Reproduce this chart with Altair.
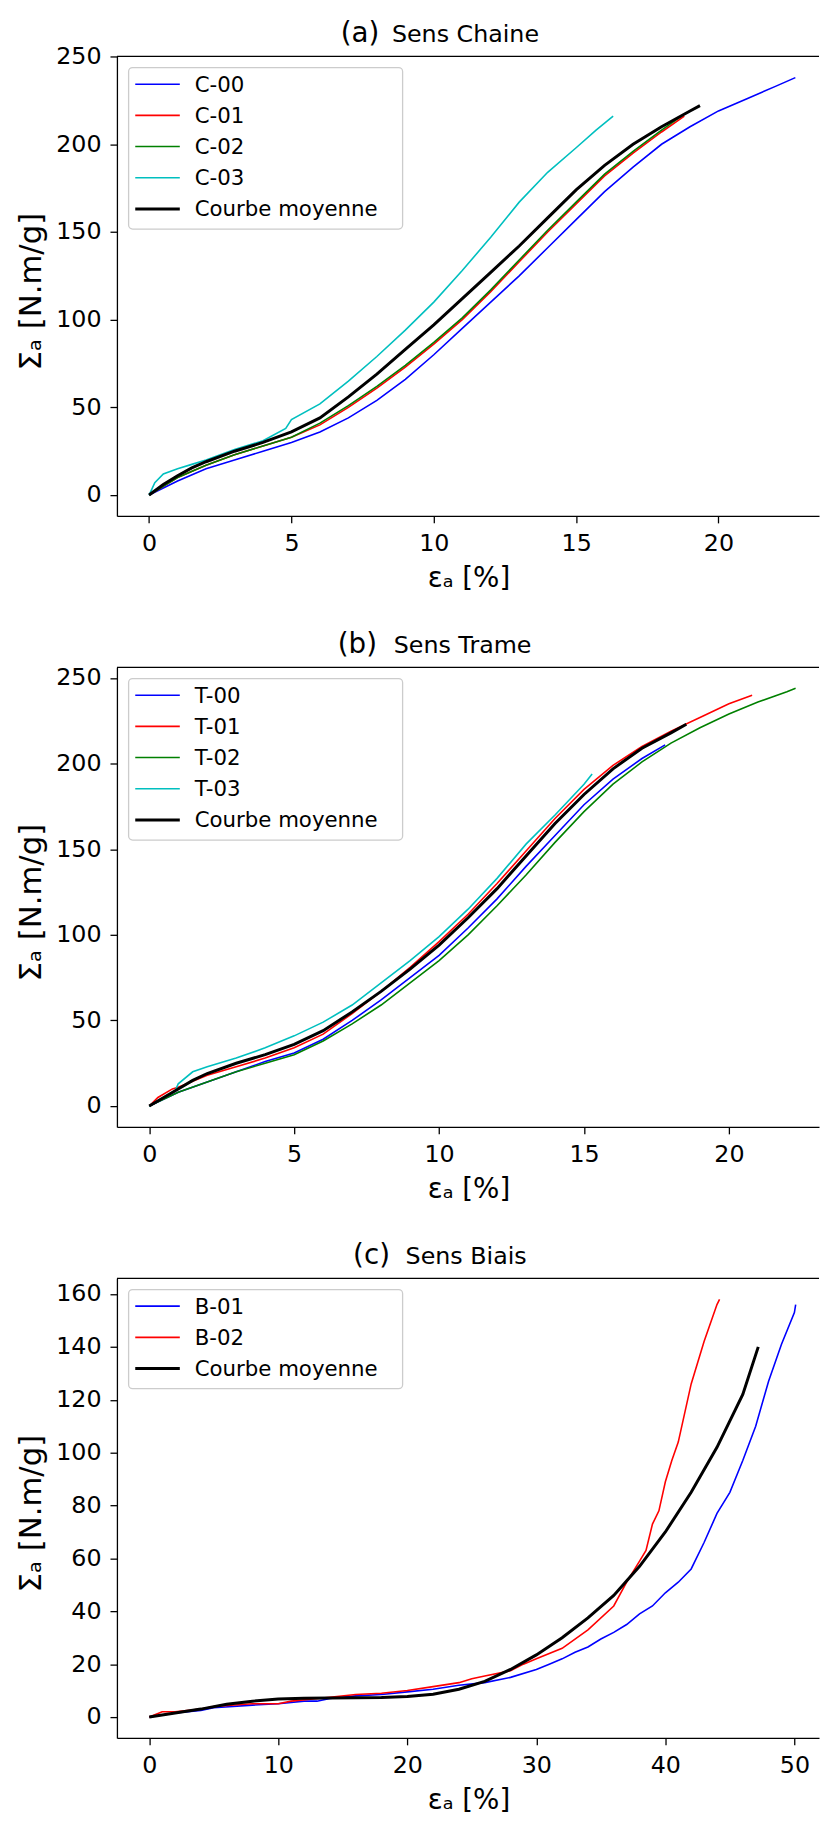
import altair as alt
import pandas as pd

FONT = "DejaVu Sans"

# ---------------- Panel (a) Sens Chaine ----------------
a_names = ["C-00", "C-01", "C-02", "C-03", "Courbe moyenne"]
a_colors = ["#0000ff", "#ff0000", "#008000", "#00bfbf", "#000000"]
a_x_c00 = [0, 1, 2, 3, 4, 5, 6, 7, 8, 9, 10, 11, 12, 13, 14, 15, 16, 17, 18, 19, 20, 21, 22, 22.7]
a_y_c00 = [0, 8, 15, 20, 25, 30, 36, 44, 54, 66, 80, 95, 110, 125, 141, 157, 173, 187, 200, 210, 219, 226, 233, 238]
a_x_c01 = [0, 1, 2, 3, 4, 5, 6, 7, 8, 9, 10, 11, 12, 13, 14, 15, 16, 17, 18, 18.8]
a_y_c01 = [0, 10, 17, 23, 28, 33, 40, 50, 61, 73, 86, 100, 116, 133, 150, 166, 182, 195, 207, 216]
a_x_c02 = [0, 1, 2, 3, 4, 5, 6, 7, 8, 9, 10, 11, 12, 13, 14, 15, 16, 17, 18, 18.7]
a_y_c02 = [0, 10, 17, 23, 28, 33, 41, 51, 62, 74, 87, 101, 117, 134, 151, 167, 183, 196, 208, 216]
a_x_c03 = [0, 0.2, 0.5, 1, 1.5, 2, 2.5, 3, 4, 4.8, 5, 6, 7, 8, 9, 10, 11, 12, 13, 14, 15, 15.7, 16.3]
a_y_c03 = [0, 7, 12, 15, 17.5, 20, 23, 26, 31, 38, 43, 52, 65, 79, 94, 110, 128, 147, 167, 184, 198, 208, 216]
a_x_moy = [0, 0.5, 1, 1.5, 2, 3, 4, 5, 6, 7, 8, 9, 10, 11, 12, 13, 14, 15, 16, 17, 18, 19, 19.35]
a_y_moy = [0, 6, 11, 15.5, 19, 25, 30, 36, 44, 56, 69, 83, 97, 112, 127, 142, 158, 174, 188, 200, 210, 219, 222]

# ---------------- Panel (b) Sens Trame ----------------
b_names = ["T-00", "T-01", "T-02", "T-03", "Courbe moyenne"]
b_colors = ["#0000ff", "#ff0000", "#008000", "#00bfbf", "#000000"]
b_x_t00 = [0, 1, 2, 3, 4, 5, 6, 7, 8, 9, 10, 11, 12, 13, 14, 15, 16, 17, 17.8]
b_y_t00 = [0, 8, 14, 20, 26, 31, 39, 50, 62, 75, 88, 104, 121, 140, 158, 176, 191, 203, 211]
b_x_t01 = [0, 0.3, 0.8, 1, 2, 3, 4, 5, 6, 7, 8, 9, 10, 11, 12, 13, 14, 15, 16, 17, 18, 19, 20, 20.8]
b_y_t01 = [0, 5, 10, 11, 18, 23, 28, 34, 42, 54, 67, 81, 96, 112, 130, 149, 168, 185, 199, 210, 219, 227, 235, 240]
b_x_t02 = [0, 1, 2, 3, 4, 5, 6, 7, 8, 9, 10, 11, 12, 13, 14, 15, 16, 17, 18, 19, 20, 21, 22, 22.3]
b_y_t02 = [0, 8, 14, 20, 25, 30, 38, 48, 59, 72, 85, 100, 117, 135, 154, 172, 188, 201, 212, 221, 229, 236, 242, 244]
b_x_t03 = [0, 0.5, 0.9, 1, 1.5, 2, 3, 4, 5, 6, 7, 8, 9, 10, 11, 12, 13, 14, 15, 15.28]
b_y_t03 = [0, 5, 9, 13, 20, 23, 28, 34, 41, 49, 59, 72, 85, 99, 115, 133, 153, 170, 188, 194]
b_x_moy = [0, 0.5, 1, 1.5, 2, 3, 4, 5, 6, 7, 8, 9, 10, 11, 12, 13, 14, 15, 16, 17, 18, 18.53]
b_y_moy = [0, 5, 10, 15, 19, 25, 30, 36, 44, 55, 67, 80, 94, 110, 127, 146, 165, 182, 197, 209, 218, 223]

# ---------------- Panel (c) Sens Biais ----------------
c_names = ["B-01", "B-02", "Courbe moyenne"]
c_colors = ["#0000ff", "#ff0000", "#000000"]
c_x_b01 = [0, 2, 4, 5, 8, 10, 12, 13, 14, 16, 18, 20, 22, 24, 26, 28, 30, 31, 32, 33, 34, 35, 36, 37,
           38, 39, 40, 41, 42, 43, 44, 45, 46, 47, 48, 49, 50, 50.1]
c_y_b01 = [0, 1.5, 2.5, 3.5, 4.5, 5, 6, 6, 7, 8, 8.5, 9.5, 10.5, 12, 13, 15, 18, 20, 22, 24.5, 26.5, 29.5, 32, 35,
           39, 42, 47, 51, 56, 66, 77, 85, 97, 110, 127, 141, 153, 156]
c_x_b02 = [0, 1, 2, 4, 5, 8, 10, 11, 14, 16, 18, 20, 22, 24, 25, 26, 28, 29, 30, 32, 34, 36, 37, 38,
           38.5, 39, 39.5, 40, 40.5, 41, 42, 43, 43.5, 44, 44.2]
c_y_b02 = [0, 2, 2, 3, 4, 5, 5, 6, 7.5, 8.5, 9, 10, 11.5, 13, 14.5, 15.5, 17.5, 20, 22, 26, 33, 42, 51, 59,
           63, 73, 78, 89, 97, 104, 126, 142, 149, 156, 158]
c_x_moy = [0, 2, 4, 6, 8, 10, 12, 14, 16, 18, 20, 22, 24, 26, 28, 30, 32, 34, 36, 38, 40, 42, 44, 46, 47.2]
c_y_moy = [0, 1.5, 3, 4.8, 6, 6.8, 7.1, 7.2, 7.3, 7.4, 7.8, 8.6, 10.5, 13.5, 18, 23.5, 30, 37.5, 46, 57, 70, 85, 102, 122, 140]

W, H = 709, 464
MEAN = "Courbe moyenne"


def table(names, xs, ys):
    rows = []
    for n, xl, yl in zip(names, xs, ys):
        for i, (x, y) in enumerate(zip(xl, yl)):
            rows.append({"serie": n, "x": x, "y": y, "i": i})
    return pd.DataFrame(rows)


def panel(df, names, colors, xdom, ydom, xticks, yticks, tag, label, tag_x, label_x, anchor=False):
    n = len(names)
    cscale = alt.Scale(domain=names, range=colors)
    swidth = alt.condition("datum.serie === '%s'" % MEAN, alt.value(3), alt.value(1.6))
    lines = alt.Chart(df).mark_line(clip=True).encode(
        x=alt.X("x:Q", scale=alt.Scale(domain=xdom, nice=False, zero=False),
                axis=alt.Axis(values=xticks, format="d", title="εₐ [%]", grid=False,
                              titleX=355, titleY=49.5, titleAlign="center", titleBaseline="top")),
        y=alt.Y("y:Q", scale=alt.Scale(domain=ydom, nice=False, zero=False),
                axis=alt.Axis(values=yticks, format="d", title="Σₐ [N.m/g]", grid=False,
                              titleX=-86, titleY=237, titleAngle=270, titleAlign="center",
                              titleBaseline="middle")),
        color=alt.Color("serie:N", scale=cscale, legend=None),
        strokeWidth=swidth,
        order="i:Q",
    )
    one = alt.Data(values=[{}])
    # legend (box, sample lines, labels)
    box_h = 16 + n * 21 + (n - 1) * 10.5
    box = alt.Chart(one).mark_rect(fill="white", fillOpacity=0.8, stroke="#cccccc",
                                   strokeWidth=1.3, cornerRadius=4).encode(
        x=alt.value(11.8), x2=alt.value(288.5), y=alt.value(11.3), y2=alt.value(11.3 + box_h))
    leg_data = alt.Data(values=[{"serie": s, "k": k} for k, s in enumerate(names)])
    leg_lines = alt.Chart(leg_data).transform_calculate(ly="28 + 31.5 * datum.k").mark_rule().encode(
        x=alt.value(18.5), x2=alt.value(63.5),
        y=alt.Y("ly:Q", scale=None, axis=None),
        color=alt.Color("serie:N", scale=cscale, legend=None),
        strokeWidth=swidth,
    )
    leg_text = alt.Chart(leg_data).transform_calculate(ty="35.5 + 31.5 * datum.k").mark_text(
        font=FONT, fontSize=21.5, align="left", baseline="alphabetic", color="black").encode(
        x=alt.value(78.5),
        y=alt.Y("ty:Q", scale=None, axis=None),
        text="serie:N",
    )
    top = alt.Chart(one).mark_rule(color="black", strokeWidth=1.3).encode(
        x=alt.value(0), x2=alt.value(W), y=alt.value(0))
    t1 = alt.Chart(one).mark_text(font=FONT, fontSize=28, align="left", baseline="alphabetic",
                                  color="black").encode(
        x=alt.value(tag_x), y=alt.value(-14.5), text=alt.value(tag))
    t2 = alt.Chart(one).mark_text(font=FONT, fontSize=24, align="left", baseline="alphabetic",
                                  color="black").encode(
        x=alt.value(label_x), y=alt.value(-14.5), text=alt.value(label))
    layers = [lines, box, leg_lines, leg_text, top, t1, t2]
    if anchor:
        # invisible corner mark fixing the outer margins of the figure
        layers.append(alt.Chart(one).mark_rule(color="white", opacity=0, strokeWidth=0).encode(
            x=alt.value(-109.5), x2=alt.value(-105), y=alt.value(-40), y2=alt.value(-40)))
    return alt.layer(*layers).properties(width=W, height=H)


pa = panel(table(a_names, [a_x_c00, a_x_c01, a_x_c02, a_x_c03, a_x_moy],
                 [a_y_c00, a_y_c01, a_y_c02, a_y_c03, a_y_moy]),
           a_names, a_colors, [-1.13, -1.13 + W / 28.75], [-11.9, 250.05],
           [0, 5, 10, 15, 20], [0, 50, 100, 150, 200, 250], "(a)", "Sens Chaine", 226, 277.7,
           anchor=True)
pb = panel(table(b_names, [b_x_t00, b_x_t01, b_x_t02, b_x_t03, b_x_moy],
                 [b_y_t00, b_y_t01, b_y_t02, b_y_t03, b_y_moy]),
           b_names, b_colors, [-1.115, -1.115 + W / 29.27], [-12.2, 256.2],
           [0, 5, 10, 15, 20], [0, 50, 100, 150, 200, 250], "(b)", "Sens Trame", 223, 279.5)
pc = panel(table(c_names, [c_x_b01, c_x_b02, c_x_moy], [c_y_b01, c_y_b02, c_y_moy]),
           c_names, c_colors, [-2.505, -2.505 + W / 13.03], [-7.9, 165.9],
           [0, 10, 20, 30, 40, 50], [0, 20, 40, 60, 80, 100, 120, 140, 160], "(c)", "Sens Biais",
           238.5, 291.5)

chart = alt.vconcat(pa, pb, pc, spacing=153, bounds="flush").resolve_scale(
    color="independent", x="independent", y="independent"
).properties(
    padding={"left": 0, "top": 0, "right": 0, "bottom": 0},
    background="white",
).configure_view(stroke=None).configure_axis(
    domainColor="black", domainWidth=1.3, tickColor="black", tickWidth=1.3, tickSize=7,
    labelFont=FONT, labelFontSize=24, labelColor="black", labelPadding=9,
    labelOverlap=False, labelFlush=False, grid=False,
    titleFont=FONT, titleFontSize=28, titleFontWeight="normal", titleColor="black",
).configure_axisY(titleFontSize=31)

chart.save("out.html", embed_options={"renderer": "svg", "actions": False})
